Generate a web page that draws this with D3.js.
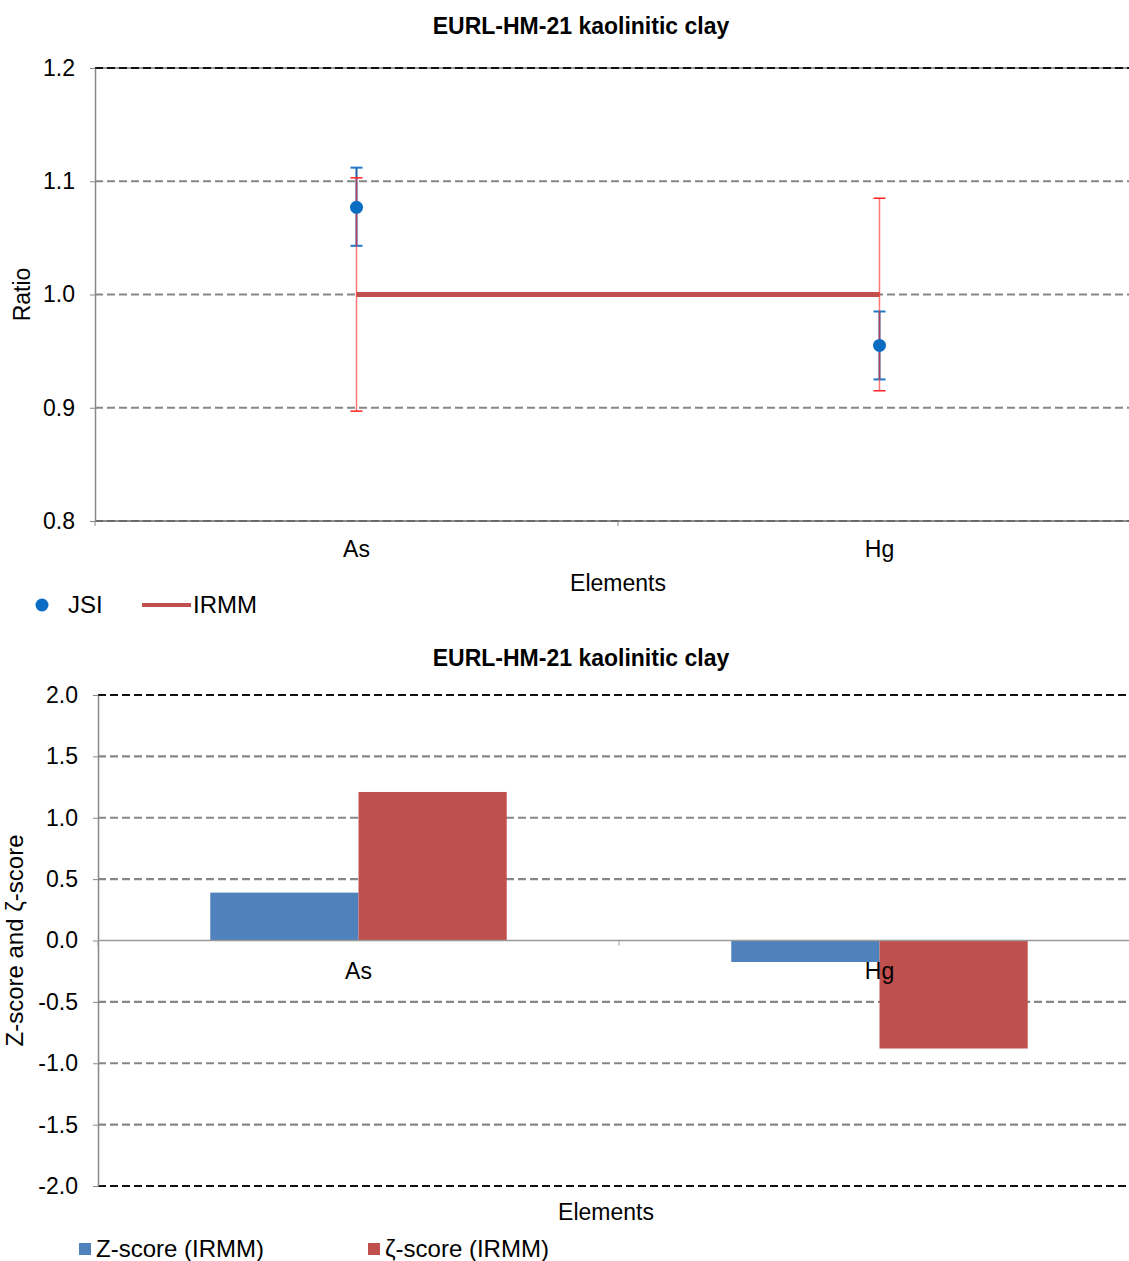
<!DOCTYPE html>
<html>
<head>
<meta charset="utf-8">
<script src="https://cdn.jsdelivr.net/npm/d3@7"></script>
<style>
  body { margin: 0; background: #fff; }
  svg { font-family: "Liberation Sans", Arial, sans-serif; }
</style>
</head>
<body>
<svg id="chart" width="1129" height="1261"></svg>
<script>
// data
const elements = ['As', 'Hg'];
const jsiRatio = [1.077, 0.955];
const jsiLow = [1.043, 0.925];
const jsiHigh = [1.112, 0.985];
const irmmRatio = [1.0, 1.0];
const irmmLow = [0.897, 0.915];
const irmmHigh = [1.103, 1.085];
const ratioTicks = [0.8, 0.9, 1.0, 1.1, 1.2];

const zScore = [0.39, -0.175];
const zetaScore = [1.21, -0.88];
const scoreTicks = [-2.0, -1.5, -1.0, -0.5, 0.0, 0.5, 1.0, 1.5, 2.0];

const svg = d3.select('#chart');
const gridColor = '#878787';
const fs = 23;

function grid(g, y, ticks, x0, x1, darkEnds) {
  ticks.forEach((t, i) => {
    const edge = darkEnds && (i === 0 || i === ticks.length - 1);
    if (edge) {
      g.append('line').attr('x1', x0).attr('x2', x1).attr('y1', y(t)).attr('y2', y(t))
        .attr('stroke', '#999').attr('stroke-width', 2);
    }
    g.append('line').attr('x1', x0).attr('x2', x1).attr('y1', y(t)).attr('y2', y(t))
      .attr('stroke', edge ? '#111' : gridColor).attr('stroke-width', 2.2)
      .attr('stroke-dasharray', '8,4');
  });
}

// ---------- top chart: ratio ----------
{
  const left = 95, right = 1141, top = 68, bottom = 521;
  const x = d3.scaleBand().domain(elements).range([left, right]);
  const y = d3.scaleLinear().domain([0.8, 1.2]).range([bottom, top]);
  const g = svg.append('g');

  g.append('text').attr('x', 581).attr('y', 34).attr('text-anchor', 'middle')
    .attr('font-weight', 'bold').attr('font-size', fs).text('EURL-HM-21 kaolinitic clay');

  grid(g, y, ratioTicks, left, 1129, true);

  const yAxis = g.append('g').attr('transform', `translate(${left},0)`)
    .call(d3.axisLeft(y).tickValues(ratioTicks).tickFormat(d3.format('.1f')).tickSize(5).tickSizeOuter(0));
  yAxis.select('.domain').attr('stroke', '#888').attr('stroke-width', 1.5);
  yAxis.selectAll('.tick line').attr('stroke', '#888');
  yAxis.selectAll('.tick text').attr('font-size', fs).attr('font-family', 'Liberation Sans, Arial, sans-serif')
    .attr('fill', '#000').attr('x', -20);

  const xAxis = g.append('g').attr('transform', `translate(0,${bottom})`);
  xAxis.append('line').attr('x1', left).attr('x2', 1129).attr('stroke', '#888').attr('stroke-width', 1.5);
  [left, left + x.step(), left + 2 * x.step()].forEach(p => {
    xAxis.append('line').attr('x1', p).attr('x2', p).attr('y1', 0).attr('y2', 5).attr('stroke', '#888');
  });
  elements.forEach(e => {
    xAxis.append('text').attr('x', x(e) + x.bandwidth() / 2).attr('y', 36)
      .attr('text-anchor', 'middle').attr('font-size', fs).text(e);
  });

  g.append('text').attr('x', 618).attr('y', 591).attr('text-anchor', 'middle')
    .attr('font-size', fs).text('Elements');
  g.append('text').attr('transform', `translate(30,${(top + bottom) / 2}) rotate(-90)`)
    .attr('text-anchor', 'middle').attr('font-size', fs).text('Ratio');

  const cx = e => x(e) + x.bandwidth() / 2;

  // IRMM line
  g.append('line').attr('x1', cx(elements[0])).attr('x2', cx(elements[1]))
    .attr('y1', y(irmmRatio[0])).attr('y2', y(irmmRatio[1]))
    .attr('stroke', '#c0504d').attr('stroke-width', 5);

  // JSI error bars (blue)
  elements.forEach((e, i) => {
    const c = cx(e);
    g.append('line').attr('x1', c).attr('x2', c).attr('y1', y(jsiLow[i])).attr('y2', y(jsiHigh[i]))
      .attr('stroke', '#1f5fa8').attr('stroke-width', 2);
    [jsiLow[i], jsiHigh[i]].forEach(v => {
      g.append('line').attr('x1', c - 6).attr('x2', c + 6).attr('y1', y(v)).attr('y2', y(v))
        .attr('stroke', '#1f78c8').attr('stroke-width', 2);
    });
  });

  // IRMM error bars (red)
  elements.forEach((e, i) => {
    const c = cx(e);
    g.append('line').attr('x1', c).attr('x2', c).attr('y1', y(irmmLow[i])).attr('y2', y(irmmHigh[i]))
      .attr('stroke', '#ff3030').attr('stroke-opacity', 0.65).attr('stroke-width', 1.5);
    [irmmLow[i], irmmHigh[i]].forEach(v => {
      g.append('line').attr('x1', c - 6).attr('x2', c + 6).attr('y1', y(v)).attr('y2', y(v))
        .attr('stroke', '#ff2020').attr('stroke-width', 1.5);
    });
  });

  // JSI points
  g.selectAll('circle.jsi').data(elements).join('circle').attr('class', 'jsi')
    .attr('cx', cx).attr('cy', (d, i) => y(jsiRatio[i])).attr('r', 6.5)
    .attr('fill', '#0b6cc4');

  // legend
  g.append('circle').attr('cx', 42).attr('cy', 605).attr('r', 6.5).attr('fill', '#0b6cc4');
  g.append('text').attr('x', 68).attr('y', 613).attr('font-size', 24).text('JSI');
  g.append('line').attr('x1', 142).attr('x2', 191).attr('y1', 605).attr('y2', 605)
    .attr('stroke', '#c0504d').attr('stroke-width', 4);
  g.append('text').attr('x', 193).attr('y', 613).attr('font-size', 24).text('IRMM');
}

// ---------- bottom chart: scores ----------
{
  const left = 98, right = 1140, top = 695, bottom = 1186;
  const x = d3.scaleBand().domain(elements).range([left, right]);
  const y = d3.scaleLinear().domain([-2, 2]).range([bottom, top]);
  const g = svg.append('g');

  g.append('text').attr('x', 581).attr('y', 666).attr('text-anchor', 'middle')
    .attr('font-weight', 'bold').attr('font-size', fs).text('EURL-HM-21 kaolinitic clay');

  grid(g, y, scoreTicks.filter(t => t !== 0), left, 1129, false);
  [-2, 2].forEach(t => {
    g.append('line').attr('x1', left).attr('x2', 1129).attr('y1', y(t)).attr('y2', y(t))
      .attr('stroke', '#111').attr('stroke-width', 2).attr('stroke-dasharray', '8,4');
  });

  const yAxis = g.append('g').attr('transform', `translate(${left},0)`)
    .call(d3.axisLeft(y).tickValues(scoreTicks).tickFormat(d3.format('.1f')).tickSize(5).tickSizeOuter(0));
  yAxis.select('.domain').attr('stroke', '#888').attr('stroke-width', 1.5);
  yAxis.selectAll('.tick line').attr('stroke', '#888');
  yAxis.selectAll('.tick text').attr('font-size', fs).attr('font-family', 'Liberation Sans, Arial, sans-serif')
    .attr('fill', '#000').attr('x', -20).text(d => d3.format('.1f')(d).replace('−', '-'));

  const bw = x.bandwidth() * 0.2845;
  elements.forEach((e, i) => {
    const c = x(e) + x.bandwidth() / 2;
    g.append('rect').attr('x', c - bw).attr('width', bw)
      .attr('y', y(Math.max(0, zScore[i]))).attr('height', Math.abs(y(zScore[i]) - y(0)))
      .attr('fill', '#4f81bd');
    g.append('rect').attr('x', c).attr('width', bw)
      .attr('y', y(Math.max(0, zetaScore[i]))).attr('height', Math.abs(y(zetaScore[i]) - y(0)))
      .attr('fill', '#c0504d');
  });

  // zero axis
  const z = y(0);
  g.append('line').attr('x1', left).attr('x2', 1129).attr('y1', z).attr('y2', z)
    .attr('stroke', '#999').attr('stroke-width', 1.5);
  [left, left + x.step()].forEach(p => {
    g.append('line').attr('x1', p).attr('x2', p).attr('y1', z).attr('y2', z + 5).attr('stroke', '#999');
  });
  elements.forEach(e => {
    g.append('text').attr('x', x(e) + x.bandwidth() / 2).attr('y', z + 38)
      .attr('text-anchor', 'middle').attr('font-size', fs).text(e);
  });

  g.append('text').attr('x', 606).attr('y', 1220).attr('text-anchor', 'middle')
    .attr('font-size', fs).text('Elements');
  g.append('text').attr('transform', `translate(23,${z}) rotate(-90)`)
    .attr('text-anchor', 'middle').attr('font-size', 24).text('Z-score and ζ-score');

  // legend
  g.append('rect').attr('x', 79).attr('y', 1243).attr('width', 12).attr('height', 12).attr('fill', '#4f81bd');
  g.append('text').attr('x', 96).attr('y', 1257).attr('font-size', 24).text('Z-score (IRMM)');
  g.append('rect').attr('x', 368).attr('y', 1243).attr('width', 12).attr('height', 12).attr('fill', '#c0504d');
  g.append('text').attr('x', 385).attr('y', 1257).attr('font-size', 24).text('ζ-score (IRMM)');
}
</script>
</body>
</html>
